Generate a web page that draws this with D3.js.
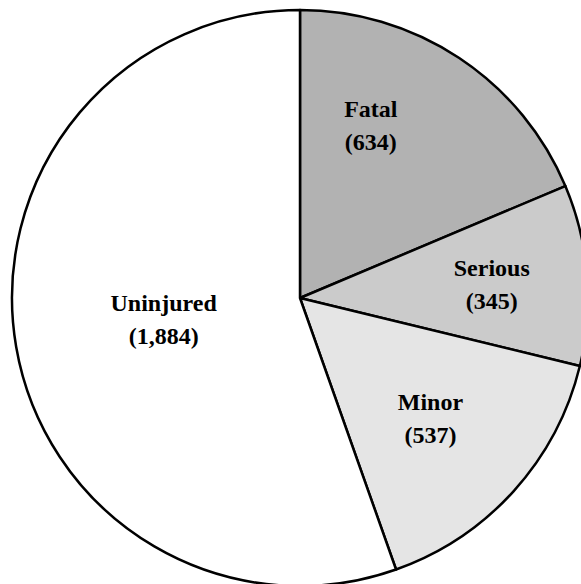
<!DOCTYPE html>
<html>
<head>
<meta charset="utf-8">
<script src="https://cdn.jsdelivr.net/npm/d3@7"></script>
<style>
  html, body { margin: 0; padding: 0; background: #fff; }
  svg { display: block; }
  text.lbl { font-family: "Liberation Serif", "Times New Roman", Times, "DejaVu Serif", serif; font-weight: bold; font-size: 24px; }
</style>
</head>
<body>
<svg width="581" height="584"></svg>
<script>
var categories = ["Fatal", "Serious", "Minor", "Uninjured"];
var values = [634, 345, 537, 1884];
var valueLabels = ["(634)", "(345)", "(537)", "(1,884)"];
var fills = ["#b2b2b2", "#cbcbcb", "#e5e5e5", "#ffffff"];
// label anchor: angle (deg, clockwise from top) and distance from center
var labelAngle = [21.4, 83.5, 130.7, 264.5];
var labelDist = [194, 193, 172, 137];

var svg = d3.select("svg"),
	cx = 300, cy = 298, radius = 288;

var g = svg.append("g").attr("transform", "translate(" + cx + "," + cy + ")");

var pie = d3.pie().sort(null).value(function(d){ return d; });
var arc = d3.arc().innerRadius(0).outerRadius(radius);

var arcs = pie(values);

g.selectAll("path.slice")
	.data(arcs)
	.enter().append("path")
	.attr("class", "slice")
	.attr("d", arc)
	.attr("fill", function(d, i){ return fills[i]; })
	.attr("stroke", "#000")
	.attr("stroke-width", 2.5)
	.attr("stroke-linejoin", "round");

var labels = g.selectAll("text.lbl")
	.data(categories)
	.enter().append("text")
	.attr("class", "lbl")
	.attr("text-anchor", "middle")
	.attr("fill", "#000")
	.attr("transform", function(d, i){
		var a = labelAngle[i] * Math.PI / 180;
		return "translate(" + (labelDist[i] * Math.sin(a)) + "," + (-labelDist[i] * Math.cos(a)) + ")";
	});

labels.append("tspan").attr("x", 0).attr("y", 0).text(function(d){ return d; });
labels.append("tspan").attr("x", 0).attr("y", 33).text(function(d, i){ return valueLabels[i]; });
</script>
</body>
</html>
